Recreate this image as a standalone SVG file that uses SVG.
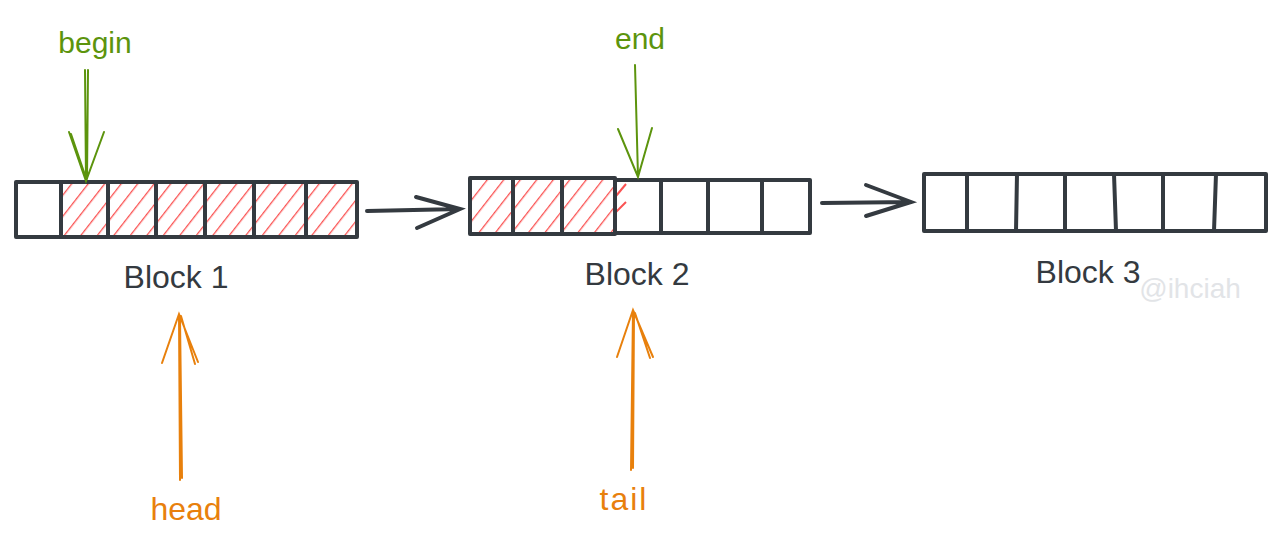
<svg xmlns="http://www.w3.org/2000/svg" width="1280" height="547" viewBox="0 0 1280 547">
<defs>
<pattern id="hatch" patternUnits="userSpaceOnUse" width="13" height="14" patternTransform="rotate(38)">
<line x1="0" y1="0" x2="0" y2="14" stroke="#fa5252" stroke-width="2.6"/>
</pattern>
<style>
.box{fill:none;stroke:#343a40;stroke-width:4;stroke-linejoin:round;stroke-linecap:round}
.div{stroke:#343a40;stroke-width:4;stroke-linecap:round}
.lbl{font-family:"Liberation Sans",Arial,sans-serif;font-size:32px;fill:#343a40;text-anchor:middle}
.g{font-family:"Liberation Sans",Arial,sans-serif;font-size:30px;fill:#5c940d;text-anchor:middle}
.o{font-family:"Liberation Sans",Arial,sans-serif;font-size:32px;fill:#e8800c;text-anchor:middle}
.ga{fill:none;stroke:#5c940d;stroke-width:2;stroke-linecap:round}
.oa{fill:none;stroke:#e8800c;stroke-width:2;stroke-linecap:round}
.ka{fill:none;stroke:#343a40;stroke-width:4;stroke-linecap:round}
</style>
</defs>
<rect width="1280" height="547" fill="#ffffff"/>

<g id="block1">
<rect x="61" y="182" width="296" height="56" fill="url(#hatch)"/>
<rect class="box" x="16" y="182" width="341" height="55"/>
<line class="div" x1="61" y1="182" x2="61" y2="237"/>
<line class="div" x1="108" y1="182" x2="108" y2="237"/>
<line class="div" x1="156" y1="182" x2="156" y2="237"/>
<line class="div" x1="205" y1="182" x2="205" y2="237"/>
<line class="div" x1="254" y1="182" x2="254" y2="237"/>
<line class="div" x1="306" y1="182" x2="306" y2="237"/>
<text class="lbl" x="176" y="288">Block 1</text>
</g>

<g id="block2">
<rect x="470" y="178" width="145" height="57" fill="url(#hatch)"/>
<line x1="616" y1="196" x2="626" y2="184" stroke="#fa5252" stroke-width="2"/>
<line x1="616" y1="212" x2="626" y2="202" stroke="#fa5252" stroke-width="2"/>
<rect class="box" x="615" y="180" width="195" height="53"/>
<rect class="box" x="470" y="178" width="145" height="56"/>
<line class="div" x1="513" y1="178" x2="513" y2="234"/>
<line class="div" x1="562" y1="178" x2="562" y2="234"/>
<line class="div" x1="661" y1="180" x2="661" y2="233"/>
<line class="div" x1="708" y1="180" x2="708" y2="233"/>
<line class="div" x1="762" y1="180" x2="762" y2="233"/>
<text class="lbl" x="637" y="285">Block 2</text>
</g>

<g id="block3">
<rect class="box" x="924" y="174" width="342" height="57"/>
<line class="div" x1="967" y1="174" x2="967" y2="231"/>
<line class="div" x1="1017" y1="174" x2="1016" y2="231"/>
<line class="div" x1="1065" y1="174" x2="1065" y2="231"/>
<line class="div" x1="1114" y1="174" x2="1116" y2="231"/>
<line class="div" x1="1163" y1="174" x2="1163" y2="231"/>
<line class="div" x1="1216" y1="174" x2="1214" y2="231"/>
<text class="lbl" x="1088" y="283">Block 3</text>
</g>

<g id="begin"><text class="g" x="95" y="53">begin</text></g>
<g id="end"><text class="g" x="640" y="49">end</text></g>
<g id="head"><text class="o" x="186" y="520">head</text></g>
<g id="tail"><text class="o" x="624" y="510" letter-spacing="2">tail</text></g>
<g id="watermark"><text x="1190" y="298" font-family="'Liberation Sans',Arial,sans-serif" font-size="28" fill="#e2e4e7" text-anchor="middle">@ihciah</text></g>

<g id="connectors">
<path class="ka" d="M367 211 L460 209 M416 197 L460 209 L417 228"/>
<path class="ka" d="M822 203 L911 202 M866 185 L911 202 L866 216"/>
<path class="ga" d="M85 70 L86 181 M88 70 L87 179 M69 132 L86 181 L104 132 M71 134 L86 178"/>
<path class="ga" d="M635 65 L638 177 M618 129 L638 177 L652 128"/>
<path class="oa" d="M180 480 L179 314 M182 478 L180 318 M162 363 L179 314 L198 362 M181 316 L195 364"/>
<path class="oa" d="M631 470 L633 310 M633 468 L634 312 M617 357 L633 310 L653 357 M635 313 L650 358"/>
</g>
</svg>
